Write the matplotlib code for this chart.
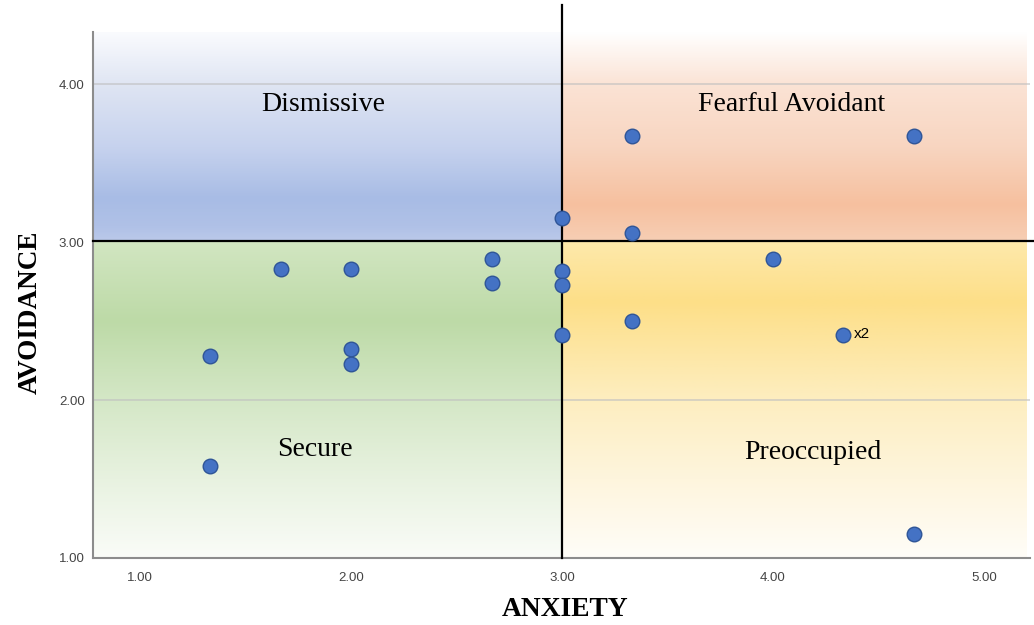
import numpy as np
import matplotlib
matplotlib.use("Agg")
import matplotlib.pyplot as plt
from matplotlib.colors import to_rgb

# ---------------- data ----------------
anxiety = [3.33, 4.67, 3.00, 3.33, 1.67, 2.00, 2.67, 2.67, 3.00, 3.00, 3.00,
           4.00, 3.33, 4.33, 1.33, 2.00, 2.00, 1.33, 4.67]
avoidance = [3.67, 3.67, 3.15, 3.06, 2.83, 2.83, 2.89, 2.74, 2.82, 2.73, 2.41,
             2.89, 2.50, 2.41, 2.28, 2.32, 2.23, 1.58, 1.15]
quadrant_names = ["Dismissive", "Fearful Avoidant", "Secure", "Preoccupied"]
xticks = [1.0, 2.0, 3.0, 4.0, 5.0]
yticks = [1.0, 2.0, 3.0, 4.0]
cut_x = 3.0
cut_y = 3.01
dup_label = "x2"

# ---------------- figure ----------------
fig = plt.figure(figsize=(10.34, 6.25), dpi=100)
ax = fig.add_axes([0.0899, 0.1072, 0.9061, 0.8416])
xmin, xmax = 0.777, 5.218
ymin, ymax = 1.0, 4.33
ax.set_xlim(xmin, xmax)
ax.set_ylim(ymin, ymax)

def gradient(ax, x0, x1, y0, y1, stops):
    ys = np.linspace(y0, y1, 300)
    pos = [s[0] for s in stops]
    cols = np.array([to_rgb(s[1]) for s in stops])
    img = np.zeros((len(ys), 1, 3))
    for c in range(3):
        img[:, 0, c] = np.interp(ys, pos, cols[:, c])
    ax.imshow(img, extent=[x0, x1, y0, y1], origin="lower", aspect="auto",
              interpolation="bilinear", zorder=0)

right_edge = 5.20
gradient(ax, xmin, cut_x, cut_y, ymax,
         [(3.0, "#bccaea"), (3.1, "#b0c1e7"), (3.28, "#a8bce5"), (3.6, "#c6d2ee"),
          (4.0, "#dfe5f3"), (4.33, "#fafbfe")])
gradient(ax, cut_x, right_edge, cut_y, ymax,
         [(3.0, "#f7cfb5"), (3.24, "#f6c09f"), (3.6, "#f8d5c0"),
          (4.0, "#fbe3d5"), (4.33, "#ffffff")])
gradient(ax, xmin, cut_x, ymin, cut_y,
         [(1.0, "#fafcf8"), (1.5, "#e8f2e0"), (2.0, "#d4e7c6"), (2.5, "#bddaa7"),
          (3.01, "#d2e6c2")])
gradient(ax, cut_x, right_edge, ymin, cut_y,
         [(1.0, "#fffdf8"), (1.5, "#fef5dd"), (2.0, "#fdeec0"), (2.62, "#fddf88"),
          (3.01, "#fde9ac")])
ax.set_xlim(xmin, xmax)
ax.set_ylim(ymin, ymax)

# grid lines
for yv in [2.0, 4.0]:
    ax.axhline(yv, color="#c0c0c0", lw=1.2, alpha=0.7, zorder=1)

# quadrant dividers
ax.axvline(cut_x, ymin=0, ymax=1.051, color="black", lw=1.6, clip_on=False, zorder=3)
ax.axhline(cut_y, xmin=0, xmax=1.004, color="black", lw=1.6, clip_on=False, zorder=3)

# points
ax.plot(anxiety, avoidance, linestyle="none", marker="o", markersize=10.5,
        markerfacecolor="#4472c4", markeredgecolor="#2f5597", markeredgewidth=1.0,
        zorder=4, clip_on=False)
ax.text(4.385, 2.42, dup_label, fontsize=11, family="Liberation Sans",
        ha="left", va="center", zorder=5)

# quadrant labels
label_pos = [(1.87, 3.87), (4.09, 3.87), (1.83, 1.69), (4.19, 1.67)]
for name, (tx, ty) in zip(quadrant_names, label_pos):
    ax.text(tx, ty, name, fontsize=20, family="Liberation Serif",
            ha="center", va="center", zorder=5)

# axes styling
for s in ["top", "right"]:
    ax.spines[s].set_visible(False)
for s in ["left", "bottom"]:
    ax.spines[s].set_color("#8c8c8c")
    ax.spines[s].set_linewidth(1.5)
ax.set_xticks(xticks)
ax.set_yticks(yticks)
ax.set_xticklabels([f"{v:.2f}" for v in xticks])
ax.set_yticklabels([f"{v:.2f}" for v in yticks])
ax.tick_params(axis="both", length=0, labelsize=9.5, labelcolor="#444444")
ax.tick_params(axis="x", pad=10)
ax.tick_params(axis="y", pad=6)
for lbl in ax.get_xticklabels() + ax.get_yticklabels():
    lbl.set_family("Liberation Sans")

fig.text(0.5464, 0.024, "ANXIETY", fontsize=19.8, fontweight="bold",
         family="Liberation Serif", ha="center", va="center")
fig.text(0.029, 0.50, "AVOIDANCE", fontsize=19.5, fontweight="bold",
         family="Liberation Serif", ha="center", va="center", rotation=90)

fig.savefig("out.png", dpi=100)
